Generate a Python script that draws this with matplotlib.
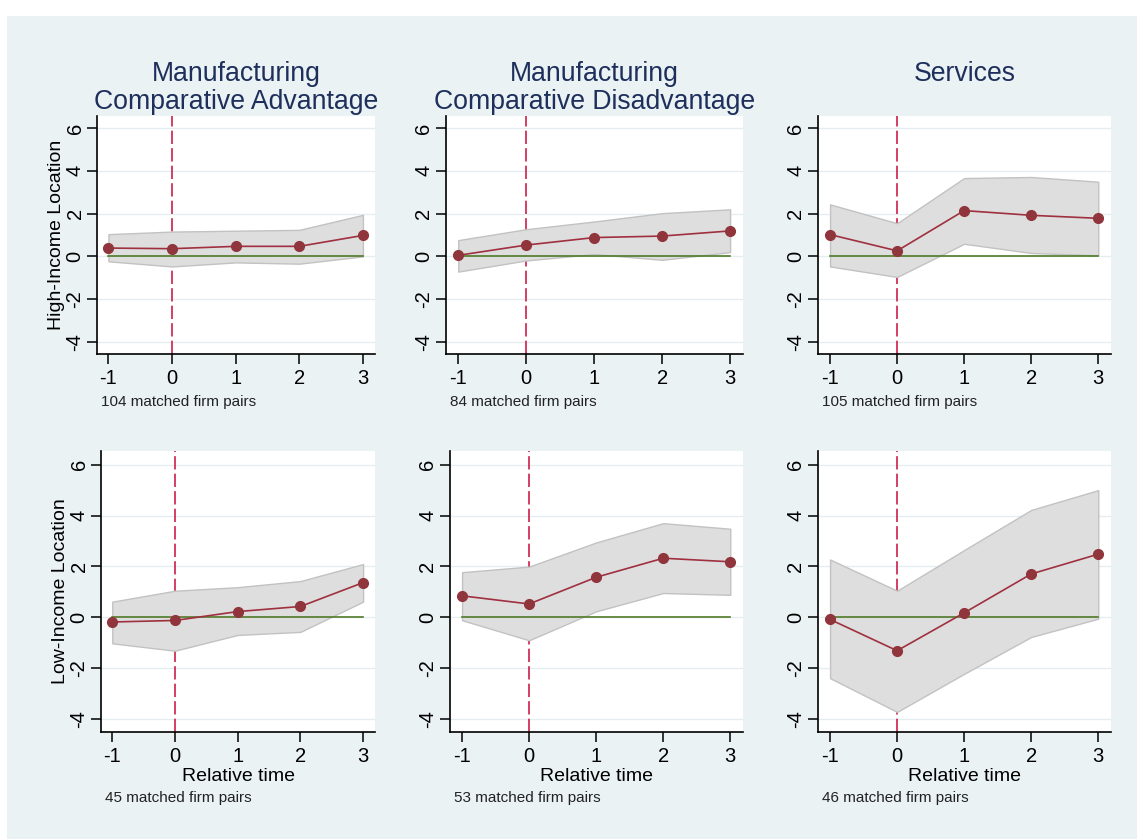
import matplotlib
matplotlib.use("Agg")
import matplotlib.pyplot as plt
from matplotlib.patches import Rectangle

plt.rcParams['font.family'] = ['Liberation Sans', 'DejaVu Sans']
plt.rcParams['axes.unicode_minus'] = False

# Event-time grid shared by all panels
rel_time = [-1, 0, 1, 2, 3]

col_titles = ["Manufacturing\nComparative Advantage",
              "Manufacturing\nComparative Disadvantage",
              "Services"]
row_labels = ["High-Income Location", "Low-Income Location"]
pair_counts = [[104, 84, 105], [45, 53, 46]]

# Point estimates and 95% bands, rows = location, cols = sector
est = [
    [[0.39, 0.36, 0.47, 0.47, 0.98],
     [0.05, 0.53, 0.88, 0.95, 1.19],
     [1.02, 0.26, 2.14, 1.92, 1.78]],
    [[-0.19, -0.13, 0.22, 0.42, 1.36],
     [0.84, 0.52, 1.57, 2.32, 2.18],
     [-0.09, -1.32, 0.17, 1.70, 2.48]],
]
ci_hi = [
    [[1.04, 1.16, 1.20, 1.24, 1.94],
     [0.76, 1.27, 1.63, 2.02, 2.20],
     [2.43, 1.55, 3.66, 3.71, 3.49]],
    [[0.61, 1.04, 1.18, 1.42, 2.09],
     [1.77, 1.99, 2.94, 3.70, 3.48],
     [2.27, 1.04, 2.64, 4.22, 5.00]],
]
ci_lo = [
    [[-0.23, -0.47, -0.28, -0.34, 0.00],
     [-0.71, -0.19, 0.11, -0.16, 0.20],
     [-0.47, -0.96, 0.59, 0.16, 0.05]],
    [[-1.03, -1.32, -0.70, -0.58, 0.61],
     [-0.12, -0.91, 0.23, 0.95, 0.88],
     [-2.40, -3.73, -2.23, -0.78, -0.06]],
]

W, H = 1137, 839
BG = '#eaf2f3'
NAVY = '#1e2f5c'
MAROON = '#90353b'

fig = plt.figure(figsize=(W / 100, H / 100), dpi=100, facecolor='white')
fig.patches.append(Rectangle((7 / W, 0), 1 - 7 / W, 1 - 16 / H,
                             transform=fig.transFigure, facecolor=BG,
                             edgecolor='none', zorder=-10))

# pixel boxes (left, right) per column, (top, bottom) per row
col_px = [[(97, 375), (446, 743), (818, 1111)],
          [(101, 375), (450, 743), (818, 1111)]]
row_px = [(116, 354), (451, 732)]
ylims = [(-4.56, 6.56), (-4.52, 6.54)]

for r in range(2):
    for c in range(3):
        x0, x1 = col_px[r][c]
        y0, y1 = row_px[r]
        ax = fig.add_axes([x0 / W, 1 - y1 / H, (x1 - x0) / W, (y1 - y0) / H])
        ax.set_facecolor('white')

        ax.axvline(0, color='#cc1f48', lw=1.2, dashes=(8, 2.5), zorder=1)
        ax.fill_between(rel_time, ci_lo[r][c], ci_hi[r][c],
                        facecolor='#dedede', edgecolor='#c2c2c2', lw=1, zorder=2)
        ax.plot(rel_time, [0] * len(rel_time), color='#4f7a28', lw=1.2, zorder=3)
        ax.plot(rel_time, est[r][c], color='#a0303f', lw=1.2, marker='o',
                markersize=7, markerfacecolor=MAROON, markeredgecolor=MAROON,
                zorder=4)

        ax.set_xlim(-1.18, 3.19)
        ax.set_ylim(*ylims[r])
        ax.set_xticks(rel_time)
        ax.set_yticks([-4, -2, 0, 2, 4, 6])
        ax.grid(axis='y', color='#e4eef1', lw=1, zorder=0)
        ax.set_axisbelow(True)

        for side in ['top', 'right']:
            ax.spines[side].set_visible(False)
        for side in ['left', 'bottom']:
            ax.spines[side].set_linewidth(1.2)
        ax.tick_params(axis='both', length=7, width=1.1, labelsize=14.5,
                       colors='black')
        ax.tick_params(axis='x', pad=4)
        ax.tick_params(axis='y', pad=2)
        for lab in ax.get_yticklabels():
            lab.set_rotation(90)
            lab.set_va('center')

        if c == 0:
            ax.set_ylabel(row_labels[r], fontsize=14, labelpad=0.5)
        if r == 1:
            ax.set_xlabel('Relative time', fontsize=14, labelpad=1)
        if r == 0:
            fig.text((x0 + x1) / 2 / W, 1 - 61 / H, col_titles[c],
                     ha='center', va='top', fontsize=19.2, color=NAVY,
                     linespacing=1.08)

        note_y = 402 if r == 0 else 798
        fig.text((x0 + 4) / W, 1 - note_y / H,
                 f'{pair_counts[r][c]} matched firm pairs',
                 ha='left', va='center', fontsize=11, color='#222222')

fig.savefig('out.png', dpi=100, facecolor=fig.get_facecolor())
